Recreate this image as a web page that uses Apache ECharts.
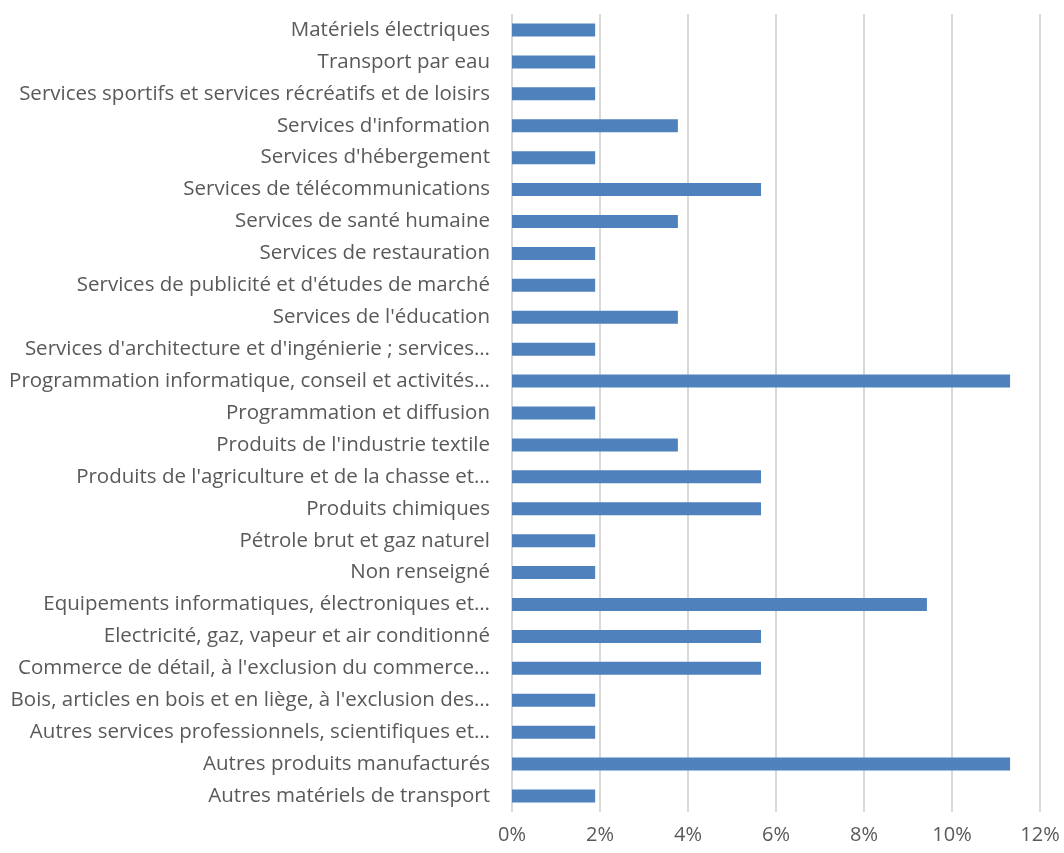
<!DOCTYPE html>
<html>
<head>
<meta charset="utf-8">
<script src="https://cdn.jsdelivr.net/npm/echarts@6/dist/echarts.min.js"></script>
<style>
  html, body { margin: 0; padding: 0; background: #fff; }
  #chart { width: 1064px; height: 853px; }
</style>
</head>
<body>
<div id="chart"></div>
<script>
// catégories, du bas vers le haut
const categories = [
  'Autres matériels de transport',
  'Autres produits manufacturés',
  'Autres services professionnels, scientifiques et…',
  'Bois, articles en bois et en liège, à l\'exclusion des…',
  'Commerce de détail, à l\'exclusion du commerce…',
  'Electricité, gaz, vapeur et air conditionné',
  'Equipements informatiques, électroniques et…',
  'Non renseigné',
  'Pétrole brut et gaz naturel',
  'Produits chimiques',
  'Produits de l\'agriculture et de la chasse et…',
  'Produits de l\'industrie textile',
  'Programmation et diffusion',
  'Programmation informatique, conseil et activités…',
  'Services d\'architecture et d\'ingénierie ; services…',
  'Services de l\'éducation',
  'Services de publicité et d\'études de marché',
  'Services de restauration',
  'Services de santé humaine',
  'Services de télécommunications',
  'Services d\'hébergement',
  'Services d\'information',
  'Services sportifs et services récréatifs et de loisirs',
  'Transport par eau',
  'Matériels électriques'
]

// parts en %
const shares = [
  1.89, 11.32, 1.89, 1.89, 5.66, 5.66, 9.43, 1.89, 1.89, 5.66,
  5.66, 3.77, 1.89, 11.32, 1.89, 3.77, 1.89, 1.89, 3.77, 5.66,
  1.89, 3.77, 1.89, 1.89, 1.89
]

const axisMin = 0
const axisMax = 12
const axisStep = 2

const chart = echarts.init(document.getElementById('chart'))
chart.setOption({
  animation: false,
  textStyle: { fontFamily: 'Open Sans' },
  grid: { left: 512, right: 24, top: 14, bottom: 41, outerBoundsMode: 'none' },
  xAxis: {
    type: 'value',
    min: axisMin,
    max: axisMax,
    interval: axisStep,
    axisLine: { show: false },
    axisTick: { show: false },
    splitLine: { lineStyle: { color: '#d9d9d9', width: 2 } },
    axisLabel: {
      formatter: '{value}%',
      color: '#595959',
      fontSize: 20,
      fontFamily: 'Open Sans',
      margin: 13
    }
  },
  yAxis: {
    type: 'category',
    data: categories,
    axisLine: { show: false },
    axisTick: { show: false },
    axisLabel: {
      color: '#595959',
      fontSize: 20.5,
      fontFamily: 'Open Sans',
      margin: 22
    }
  },
  series: [{
    type: 'bar',
    data: shares,
    barWidth: 13,
    itemStyle: { color: '#4f81bd' }
  }]
})
</script>
</body>
</html>
